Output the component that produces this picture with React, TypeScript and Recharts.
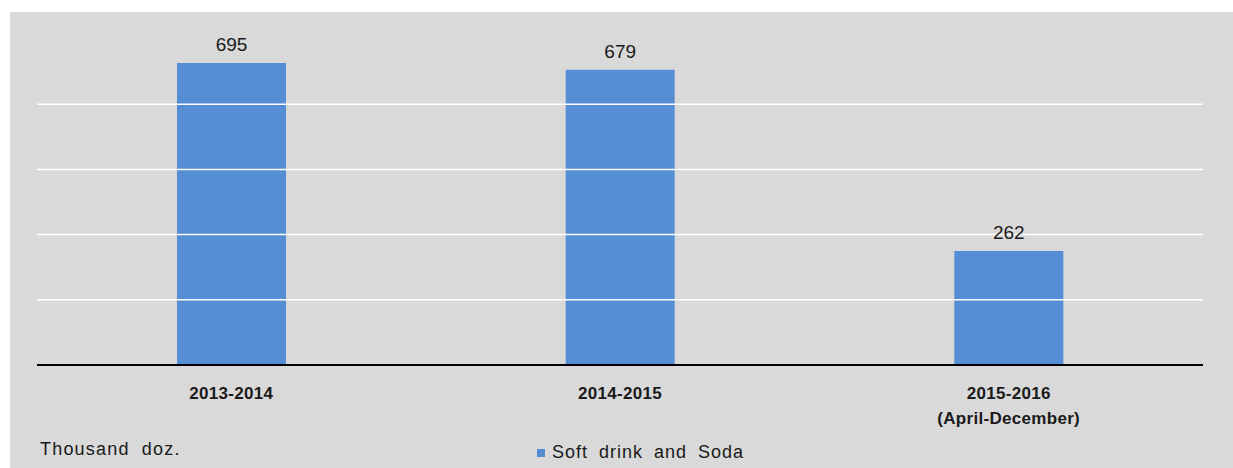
// Soft drink and Soda output, bar chart with value labels
import { BarChart, Bar, XAxis, YAxis, ReferenceLine, LabelList, Legend } from "recharts";

const periods = ["2013-2014", "2014-2015", "2015-2016\n(April-December)"];
const softDrink = [695, 679, 262];
const yTicks = [150, 300, 450, 600];
const edgeTicks = [0, 1, 2, 3];

const data = periods.map((p, i) => ({ period: p, soda: softDrink[i], idx: i + 0.5 }));

const FONT = "'Liberation Sans', Arial, sans-serif";

const PeriodTick = ({ x, y, payload }: any) => {
    const lines = String(payload.value).split("\n");
    return (
        <g transform={`translate(${x},${y})`}>
            {lines.map((l, i) => (
                <text key={i} x={0} y={i * 25} dy={25} textAnchor="middle" letterSpacing={0.3}
                    fontFamily={FONT} fontSize={17} fontWeight={700} fill="#1a1a1a">
                    {l}
                </text>
            ))}
        </g>
    );
};

const LegendBox = () => (
    <div style={{ display: "flex", alignItems: "center", fontFamily: FONT, fontSize: 18, color: "#1a1a1a", wordSpacing: 5, letterSpacing: 1 }}>
        <span style={{ width: 8, height: 8, background: "#558ed5", display: "inline-block", marginRight: 7 }} />
        Soft drink and Soda
    </div>
);

export default function App() {
    return (
        <div style={{ position: "absolute", left: 0, top: 0, width: 1233, height: 468, background: "#ffffff" }}>
            <div style={{ position: "absolute", left: 10, top: 12, width: 1223, height: 456, background: "#d9d9d9" }} />
            <div style={{ position: "absolute", left: 40, top: 439, fontFamily: FONT, fontSize: 18, color: "#1a1a1a", wordSpacing: 6, letterSpacing: 1.2 }}>
                Thousand doz.
            </div>
            <div style={{ position: "absolute", left: 0, top: 0 }}>
                <BarChart width={1233} height={468} data={data}
                    margin={{ top: 39, right: 30, bottom: 40, left: 37 }}>
                    <YAxis hide domain={[0, 750]} />
                    <XAxis xAxisId="a-edge" type="number" dataKey="idx" domain={[0, 3]} ticks={edgeTicks}
                        height={1} tick={false} tickSize={5}
                        axisLine={{ stroke: "#000", strokeWidth: 2 }} tickLine={{ stroke: "#000", strokeWidth: 1.5 }} />
                    <XAxis xAxisId="z-cat" dataKey="period" interval={0} height={62} axisLine={false} tickLine={false}
                        tick={<PeriodTick />} />
                    {yTicks.map((t) => (
                        <ReferenceLine key={t} xAxisId="z-cat" y={t} stroke="#ffffff" strokeWidth={1.5} />
                    ))}
                    <Bar xAxisId="z-cat" dataKey="soda" name="Soft drink and Soda" fill="#558ed5" barSize={109}
                        isAnimationActive={false}>
                        <LabelList dataKey="soda" position="top" offset={12}
                            style={{ fontFamily: FONT, fontSize: 19, fill: "#1a1a1a" }} />
                    </Bar>
                    <Legend layout="horizontal" verticalAlign="middle" content={<LegendBox />}
                        wrapperStyle={{ position: "absolute", left: 537, top: 442, width: 280 }} />
                </BarChart>
            </div>
        </div>
    );
}
